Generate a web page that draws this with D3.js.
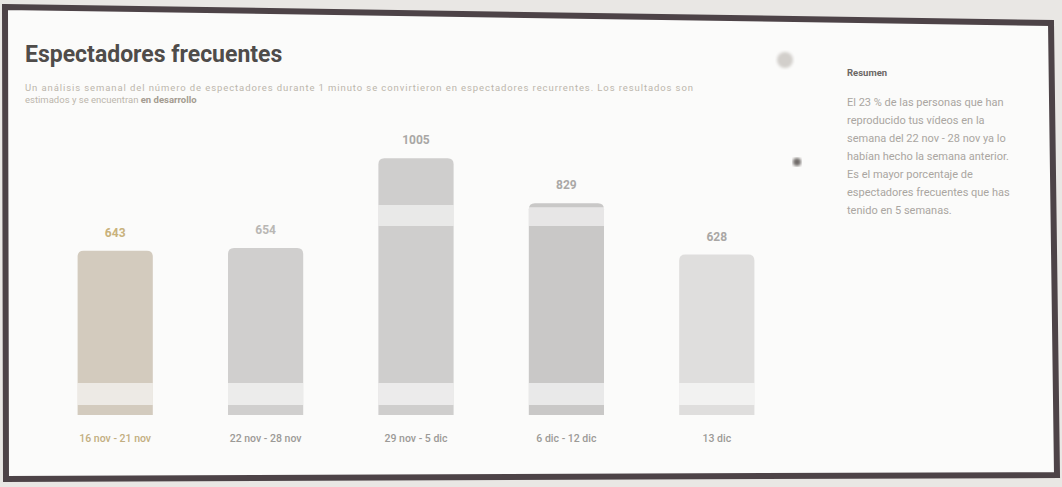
<!DOCTYPE html>
<html>
<head>
<meta charset="utf-8">
<script src="https://cdn.jsdelivr.net/npm/d3@7"></script>
<style>
  body { margin: 0; background: #e9e7e4; }
  svg { display: block; font-family: Roboto, "Noto Sans", sans-serif; }
</style>
</head>
<body>
<svg id="chart"></svg>
<script>
const width = 1062;
const height = 487;

// Weekly data
const weeks = ["16 nov - 21 nov", "22 nov - 28 nov", "29 nov - 5 dic", "6 dic - 12 dic", "13 dic"];
const viewers = [643, 654, 1005, 829, 628];
const barColors = ["#d3cbbe", "#d0cfce", "#cfcecd", "#c9c8c7", "#dfdedd"];
const labelColors = ["#c9b27c", "#b9b7b4", "#a9a7a5", "#aaa8a6", "#a9a7a5"];

const summaryLines = [
    "El 23 % de las personas que han",
    "reproducido tus vídeos en la",
    "semana del 22 nov - 28 nov ya lo",
    "habían hecho la semana anterior.",
    "Es el mayor porcentaje de",
    "espectadores frecuentes que has",
    "tenido en 5 semanas."
];

const layout = {plot: {left: 40, right: 792, top: 134, bottom: 415}};

let svg = d3.select("#chart")
    .attr("width", width)
    .attr("height", height);

// Screen + frame (photo is slightly skewed)
let frame = [[5, 7], [1051, 23], [1057, 475], [6, 479]];
svg.append("path")
    .attr("d", "M" + frame.join("L") + "Z")
    .style("fill", "#fbfbfa")
    .style("stroke", "#4d4347")
    .style("stroke-width", 6);

// Title and subtitle
svg.append("text")
    .attr("x", 25).attr("y", 62)
    .style("font-size", "23px").style("font-weight", "bold")
    .style("fill", "#4f4c4a")
    .text("Espectadores frecuentes");

let sub = svg.append("g").style("font-size", "9.5px").style("fill", "#bcb6ac");
sub.append("text").attr("x", 25).attr("y", 91)
    .attr("textLength", 668).attr("lengthAdjust", "spacing")
    .text("Un análisis semanal del número de espectadores durante 1 minuto se convirtieron en espectadores recurrentes. Los resultados son");
sub.append("text").attr("x", 25).attr("y", 103)
    .text("estimados y se encuentran ")
    .append("tspan").style("font-weight", "bold").style("fill", "#a49c90").text("en desarrollo");

// Scales
let x = d3.scaleBand()
    .domain(weeks)
    .range([layout.plot.left, layout.plot.right])
    .paddingInner(0.5)
    .paddingOuter(0.25);

let y = d3.scaleLinear()
    .domain([0, 1100])
    .range([layout.plot.bottom, layout.plot.top]);

// Rounded-top bar path
let barPath = (x0, y0, w, y1, r) =>
{
    return "M" + x0 + "," + y1 +
        "V" + (y0 + r) +
        "Q" + x0 + "," + y0 + " " + (x0 + r) + "," + y0 +
        "H" + (x0 + w - r) +
        "Q" + (x0 + w) + "," + y0 + " " + (x0 + w) + "," + (y0 + r) +
        "V" + y1 + "Z";
};

svg.append("g").selectAll("path")
    .data(viewers)
    .join("path")
    .attr("d", (d, i) => barPath(x(weeks[i]), y(d), x.bandwidth(), y(0), 6))
    .style("fill", (d, i) => barColors[i]);

// Screen moiré bands over the bars
const bands = [{from: 205, to: 226, op: 0.55}, {from: 383, to: 405, op: 0.6}];
bands.forEach(b =>
{
    svg.append("g").selectAll("rect")
        .data(viewers.filter(d => y(d) < b.to))
        .join("rect")
        .attr("x", d => x(weeks[viewers.indexOf(d)]))
        .attr("y", d => Math.max(b.from, y(d) + 4))
        .attr("width", x.bandwidth())
        .attr("height", d => b.to - Math.max(b.from, y(d) + 4))
        .style("fill", "#ffffff")
        .style("opacity", b.op);
});

// Value labels
svg.append("g").selectAll("text")
    .data(viewers)
    .join("text")
    .attr("x", (d, i) => x(weeks[i]) + x.bandwidth() / 2)
    .attr("y", d => y(d) - 14)
    .attr("text-anchor", "middle")
    .style("font-size", "12px").style("font-weight", "bold")
    .style("fill", (d, i) => labelColors[i])
    .text(d => d);

// Week axis
let xAxis = svg.append("g")
    .attr("transform", "translate(0," + (layout.plot.bottom + 16) + ")")
    .call(d3.axisBottom(x).tickSize(0).tickPadding(4));
xAxis.select(".domain").remove();
xAxis.selectAll("text")
    .style("font-size", "10.5px").style("font-family", "Roboto, sans-serif")
    .style("font-weight", "500")
    .style("fill", (d, i) => i === 0 ? "#c2ae80" : "#9c9a97");

// Summary panel
svg.append("text")
    .attr("x", 847).attr("y", 76)
    .style("font-size", "9.5px").style("font-weight", "bold")
    .style("fill", "#6b6865")
    .text("Resumen");

svg.append("g").selectAll("text")
    .data(summaryLines)
    .join("text")
    .attr("x", 847)
    .attr("y", (d, i) => 106 + i * 18)
    .style("font-size", "11px")
    .style("fill", "#aaa6a1")
    .text(d => d);

// Camera dots on the screen
let blur = svg.append("defs").append("filter").attr("id", "soft");
blur.append("feGaussianBlur").attr("stdDeviation", 1.5);
svg.append("circle").attr("cx", 785).attr("cy", 60).attr("r", 8)
    .style("fill", "#d2cfcb").attr("filter", "url(#soft)");
svg.append("circle").attr("cx", 797).attr("cy", 162).attr("r", 4)
    .style("fill", "#6f6b68").attr("filter", "url(#soft)");
</script>
</body>
</html>
